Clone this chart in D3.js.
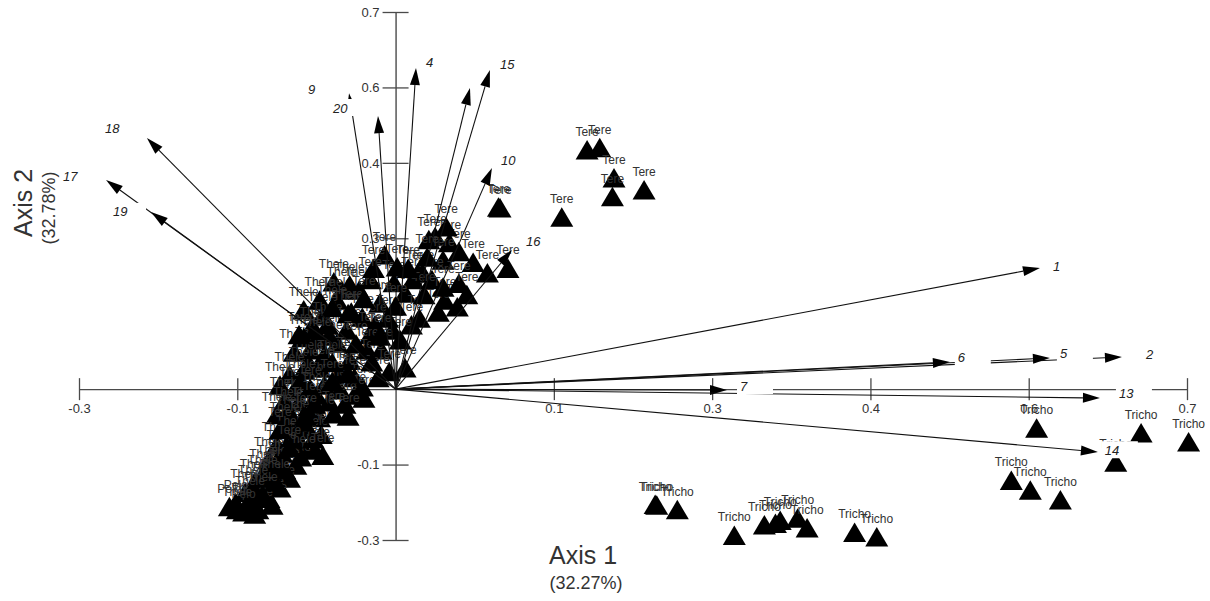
<!DOCTYPE html>
<html>
<head>
<meta charset="utf-8">
<script src="https://cdn.jsdelivr.net/npm/d3@7"></script>
<style>
  body { margin: 0; background: #fff; }
  svg { display: block; font-family: Arial, "Liberation Sans", sans-serif; }
</style>
</head>
<body>
<svg id="chart" width="1210" height="601"></svg>
<script>
// ── Axis ticks (printed labels don't follow a regular step, so keep them as read) ──
const xTicks = [-0.2, -0.1, 0.1, 0.2, 0.3, 0.4, 0.5];
const xTickLabels = ["-0.3", "-0.1", "0.1", "0.3", "0.4", "0.6", "0.7"];
const yTicks = [0.5, 0.4, 0.3, 0.2, -0.1, -0.2];
const yTickLabels = ["0.7", "0.6", "0.4", "0.3", "-0.1", "-0.3"];

// ── Variable vectors ─────────────────────────────────────────────────────────
const varNames = ["1", "2", "5", "6", "7", "13", "14", "4", "15", "", "10", "16", "20", "9", "18", "17", "19"];
const varX = [0.4071, 0.4589, 0.4134, 0.3502, 0.2094, 0.4450, 0.4437, 0.0129, 0.0596, 0.0470, 0.0609, 0.0735, -0.0294, -0.0111, -0.1571, -0.1829, -0.1545];
const varY = [0.1606, 0.0426, 0.0413, 0.0359, -0.0012, -0.0118, -0.0834, 0.4257, 0.4230, 0.3992, 0.2931, 0.1845, 0.3924, 0.3620, 0.3328, 0.2772, 0.2348];
const varLabelX = [0.4153, 0.4741, 0.4197, 0.3552, 0.2176, 0.4570, 0.4481, 0.0192, 0.0660, 0, 0.0666, 0.0824, -0.0395, -0.0553, -0.1836, -0.2101, -0.1785];
const varLabelY = [0.1632, 0.0465, 0.0479, 0.0426, 0.0041, -0.0052, -0.0810, 0.4337, 0.4311, 0, 0.3037, 0.1964, 0.3727, 0.3979, 0.3461, 0.2825, 0.2350];

// ── Sample scores ────────────────────────────────────────────────────────────
const theleX = [-0.023, -0.039, -0.034, -0.037, -0.046, -0.053, -0.031, -0.037, -0.045, -0.054, -0.064, -0.035, -0.048, -0.058, -0.067, -0.073, -0.064, -0.045, -0.035, -0.070, -0.061, -0.042, -0.075, -0.066, -0.048, -0.064, -0.056, -0.047, -0.075, -0.059, -0.051, -0.080, -0.072, -0.063, -0.083, -0.074, -0.067, -0.089, -0.082, -0.073, -0.095, -0.087, -0.080, -0.094, -0.087, -0.089, -0.078, -0.048, -0.058, -0.051, -0.043, -0.029,
  -0.050, -0.042, -0.058, -0.030, -0.040, -0.055, -0.040, -0.060, -0.050, -0.068, -0.056, -0.070, -0.058, -0.052, -0.066, -0.072, -0.060, -0.078, -0.070, -0.084, -0.076, -0.090, -0.084, -0.092, -0.100];
const theleY = [0.131, 0.142, 0.131, 0.118, 0.098, 0.082, 0.078, 0.061, 0.045, 0.052, 0.049, 0.023, 0.028, 0.025, 0.019, 0.005, -0.001, 0.005, -0.001, -0.015, -0.017, -0.017, -0.034, -0.038, -0.038, -0.057, -0.054, -0.060, -0.074, -0.076, -0.081, -0.094, -0.097, -0.101, -0.110, -0.114, -0.118, -0.123, -0.127, -0.131, -0.137, -0.141, -0.145, -0.155, -0.160, -0.166, -0.154, 0.118, 0.105, 0.078, 0.085, 0.138,
  0.065, 0.070, 0.068, 0.100, 0.108, 0.035, 0.035, 0.010, -0.008, -0.028, -0.028, -0.047, -0.044, -0.066, -0.066, -0.085, -0.090, -0.104, -0.107, -0.118, -0.123, -0.131, -0.140, -0.146, -0.160];

const peloX = [-0.101, -0.105, -0.096];
const peloY = [-0.151, -0.156, -0.163];

const tereX = [0.121, 0.129, 0.138, 0.137, 0.157, 0.105, 0.066, 0.065, 0.071, 0.058, 0.049, 0.040, 0.034, 0.032, 0.025, 0.021, 0.030, 0.017, 0.023, 0.011, 0.014, -0.007, -0.014, -0.001, 0.006, 0.031, 0.039, 0.027, 0.015, 0.010, -0.002, 0.006, -0.009, 0.003, -0.021, -0.010, 0.001,
  -0.061, -0.028, -0.016, -0.029, -0.021, -0.026, -0.054, -0.026, -0.020, -0.051, -0.032, -0.057, -0.039, -0.030, -0.073, -0.067, -0.046, -0.016, -0.005, -0.013, -0.018, -0.004, -0.011, -0.015,
  -0.020, 0.000, 0.018, 0.030, 0.040, 0.045, -0.010, -0.025, -0.030, -0.040, 0.008, 0.020];
const tereY = [0.317, 0.320, 0.280, 0.255, 0.264, 0.228, 0.240, 0.241, 0.160, 0.154, 0.168, 0.182, 0.194, 0.215, 0.202, 0.198, 0.171, 0.154, 0.145, 0.145, 0.154, 0.178, 0.160, 0.141, 0.127, 0.118, 0.109, 0.102, 0.094, 0.085, 0.078, 0.028, 0.052, 0.065, 0.095, 0.114, 0.162,
  0.072, 0.102, 0.072, 0.038, 0.003, 0.015, 0.001, -0.008, -0.012, -0.020, -0.020, -0.036, -0.033, -0.036, -0.054, -0.078, -0.088, 0.145, 0.094, 0.085, 0.052, 0.023, 0.015, 0.036,
  0.120, 0.110, 0.125, 0.135, 0.140, 0.125, 0.070, 0.060, 0.020, 0.010, 0.160, 0.175];

const trichoX = [0.165, 0.164, 0.178, 0.214, 0.233, 0.240, 0.243, 0.254, 0.260, 0.290, 0.304, 0.405, 0.471, 0.501, 0.455, 0.389, 0.401, 0.420];
const trichoY = [-0.154, -0.153, -0.160, -0.194, -0.180, -0.178, -0.174, -0.171, -0.184, -0.190, -0.196, -0.052, -0.058, -0.070, -0.097, -0.121, -0.134, -0.147];

const groups = [
  { name: "Thele", xs: theleX, ys: theleY },
  { name: "Pelo", xs: peloX, ys: peloY },
  { name: "Tere", xs: tereX, ys: tereY },
  { name: "Tricho", xs: trichoX, ys: trichoY }
];

// ── Scales ───────────────────────────────────────────────────────────────────
const x = d3.scaleLinear().domain([-0.2, 0.5]).range([79, 1187]);
const y = d3.scaleLinear().domain([-0.2, 0.5]).range([540, 12]);
const ox = x(0), oy = y(0);

const svg = d3.select("#chart");
const AXIS_COLOR = "#4a4a4a";

// ── Axes through the origin ─────────────────────────────────────────────────
const gx = svg.append("g")
  .attr("transform", `translate(0,${oy})`)
  .call(d3.axisBottom(x).tickValues(xTicks).tickSizeOuter(0).tickSizeInner(11).tickPadding(4)
    .tickFormat((d, i) => xTickLabels[i]));
gx.selectAll(".tick line").attr("y1", -11);

const gy = svg.append("g")
  .attr("transform", `translate(${ox},0)`)
  .call(d3.axisLeft(y).tickValues(yTicks).tickSizeOuter(0).tickSizeInner(13).tickPadding(3)
    .tickFormat((d, i) => yTickLabels[i]));
gy.selectAll(".tick line").attr("x1", 13);

[gx, gy].forEach((g) => {
  g.select(".domain").attr("stroke", AXIS_COLOR).attr("stroke-width", 1.4);
  g.selectAll(".tick line").attr("stroke", AXIS_COLOR).attr("stroke-width", 1.3);
  g.selectAll(".tick text").attr("fill", "#333").attr("font-size", 13)
    .attr("font-family", "Arial, 'Liberation Sans', sans-serif");
});

// ── Axis titles ─────────────────────────────────────────────────────────────
svg.append("text").attr("x", 583).attr("y", 564).attr("text-anchor", "middle")
  .attr("font-size", 25).attr("fill", "#333").text("Axis 1");
svg.append("text").attr("x", 586).attr("y", 589).attr("text-anchor", "middle")
  .attr("font-size", 18).attr("fill", "#333").text("(32.27%)");
svg.append("text").attr("transform", "translate(32,203) rotate(-90)").attr("text-anchor", "middle")
  .attr("font-size", 25).attr("fill", "#333").text("Axis 2");
svg.append("text").attr("transform", "translate(55,208) rotate(-90)").attr("text-anchor", "middle")
  .attr("font-size", 18).attr("fill", "#333").text("(32.78%)");

// ── Sample points: label above a filled triangle ────────────────────────────
const pts = groups.flatMap((g) => g.xs.map((v, i) => ({ name: g.name, x: v, y: g.ys[i] })));
const node = svg.append("g").selectAll("g").data(pts).join("g")
  .attr("transform", (d) => `translate(${x(d.x)},${y(d.y)})`);
node.append("text")
  .attr("y", -14)
  .attr("text-anchor", "middle")
  .attr("font-size", 12)
  .attr("fill", "#333")
  .text((d) => d.name);
node.append("path")
  .attr("d", "M0,-10L11.5,9.5L-11.5,9.5Z")
  .attr("fill", "#000");

// ── Variable arrows ─────────────────────────────────────────────────────────
const vars = varNames.map((n, i) => ({ name: n, x: varX[i], y: varY[i], lx: varLabelX[i], ly: varLabelY[i] }));
const HEAD_LEN = 17, HEAD_W = 5;
const arrows = svg.append("g").selectAll("g").data(vars).join("g");
arrows.each(function (d) {
  const tx = x(d.x), ty = y(d.y);
  const len = Math.hypot(tx - ox, ty - oy);
  const ux = (tx - ox) / len, uy = (ty - oy) / len;
  const bx = tx - ux * HEAD_LEN, by = ty - uy * HEAD_LEN;
  const g = d3.select(this);
  g.append("line")
    .attr("x1", ox).attr("y1", oy).attr("x2", bx).attr("y2", by)
    .attr("stroke", "#111").attr("stroke-width", 1.1);
  g.append("path")
    .attr("d", `M${tx},${ty}L${bx - uy * HEAD_W},${by + ux * HEAD_W}L${bx + uy * HEAD_W},${by - ux * HEAD_W}Z`)
    .attr("fill", "#000");
});

// ── Variable labels (white box behind, as in the original) ──────────────────
const labs = svg.append("g").selectAll("g").data(vars.filter((d) => d.name)).join("g")
  .attr("transform", (d) => `translate(${x(d.lx)},${y(d.ly)})`);
labs.append("rect")
  .attr("x", -3).attr("y", -9).attr("width", 36).attr("height", 17)
  .attr("fill", "#fff");
labs.append("text")
  .attr("dy", "0.35em")
  .attr("font-size", 13)
  .attr("font-style", "italic")
  .attr("fill", "#222")
  .text((d) => d.name);
</script>
</body>
</html>
